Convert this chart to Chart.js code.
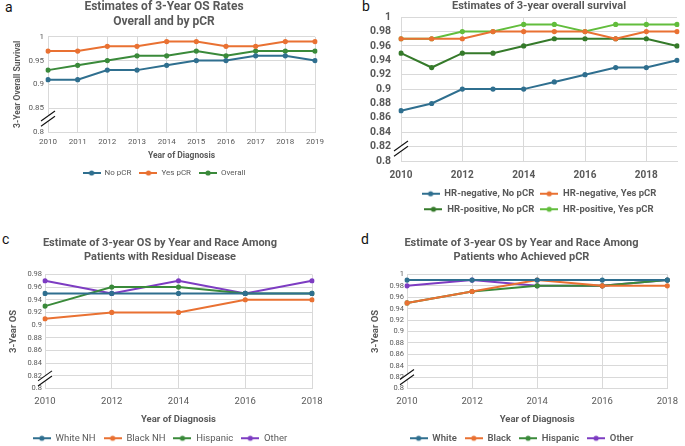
<!DOCTYPE html>
<html>
<head>
<meta charset="utf-8">
<script src="https://cdn.jsdelivr.net/npm/chart.js@4.4.1/dist/chart.umd.min.js"></script>
<style>
  html, body { margin: 0; padding: 0; background: #fff; }
  body { width: 685px; height: 446px; position: relative; overflow: hidden; font-family: Roboto, sans-serif; }
  .panel { position: absolute; }
  .tag { position: absolute; font: 14px Roboto, sans-serif; color: #111; }
</style>
</head>
<body>
<div class="tag" style="left:5px;top:-1px">a</div>
<div class="tag" style="left:362px;top:-2px">b</div>
<div class="tag" style="left:2px;top:231px">c</div>
<div class="tag" style="left:361px;top:231px">d</div>

<div class="panel" style="left:0;top:0;width:340px;height:187px"><canvas id="chartA"></canvas></div>
<div class="panel" style="left:340px;top:0;width:345px;height:224px"><canvas id="chartB"></canvas></div>
<div class="panel" style="left:0;top:225px;width:340px;height:228px"><canvas id="chartC"></canvas></div>
<div class="panel" style="left:340px;top:225px;width:345px;height:228px"><canvas id="chartD"></canvas></div>

<script>
// ---- data ----
const yearsAll = ['2010', '2011', '2012', '2013', '2014', '2015', '2016', '2017', '2018', '2019'];
const yearsEven = ['2010', '2012', '2014', '2016', '2018'];

// panel a
const noPcr = [0.91, 0.91, 0.93, 0.93, 0.94, 0.95, 0.95, 0.96, 0.96, 0.95];
const yesPcr = [0.97, 0.97, 0.98, 0.98, 0.99, 0.99, 0.98, 0.98, 0.99, 0.99];
const overall = [0.93, 0.94, 0.95, 0.96, 0.96, 0.97, 0.96, 0.97, 0.97, 0.97];

// panel b
const hrNegNo = [0.87, 0.88, 0.90, 0.90, 0.90, 0.91, 0.92, 0.93, 0.93, 0.94];
const hrNegYes = [0.97, 0.97, 0.97, 0.98, 0.98, 0.98, 0.98, 0.97, 0.98, 0.98];
const hrPosNo = [0.95, 0.93, 0.95, 0.95, 0.96, 0.97, 0.97, 0.97, 0.97, 0.96];
const hrPosYes = [0.97, 0.97, 0.98, 0.98, 0.99, 0.99, 0.98, 0.99, 0.99, 0.99];

// panel c (residual disease)
const resWhite = [0.95, 0.95, 0.95, 0.95, 0.95];
const resBlack = [0.91, 0.92, 0.92, 0.94, 0.94];
const resHisp = [0.93, 0.96, 0.96, 0.95, 0.95];
const resOther = [0.97, 0.95, 0.97, 0.95, 0.97];

// panel d (achieved pCR)
const pcrWhite = [0.99, 0.99, 0.99, 0.99, 0.99];
const pcrBlack = [0.95, 0.97, 0.99, 0.98, 0.98];
const pcrHisp = [0.95, 0.97, 0.98, 0.98, 0.99];
const pcrOther = [0.98, 0.99, 0.98, 0.98, 0.99];

// ---- style ----
Chart.defaults.font.family = 'Roboto, sans-serif';
Chart.defaults.color = '#595959';
Chart.defaults.animation = false;

const GRID = '#d9d9d9';
const BLUE = '#2f6f8f';
const ORANGE = '#e97132';
const GREEN = '#3a8a3a';
const DGREEN = '#357a2a';
const LGREEN = '#62bd3c';
const PURPLE = '#7d3cc2';

// legend icon: short line with a dot, like the spreadsheet legend
function makeIcon(color) {
  const c = document.createElement('canvas');
  c.width = 18; c.height = 8;
  const g = c.getContext('2d');
  g.strokeStyle = color; g.lineWidth = 2;
  g.beginPath(); g.moveTo(0, 4); g.lineTo(18, 4); g.stroke();
  g.fillStyle = color;
  g.beginPath(); g.arc(9, 4, 2.6, 0, Math.PI * 2); g.fill();
  return c;
}

function series(label, data, color) {
  return {
    label: label, data: data,
    borderColor: color, backgroundColor: color,
    borderWidth: 2, pointRadius: 2.6, pointHoverRadius: 2.6,
    pointBorderWidth: 0, pointBackgroundColor: color, tension: 0
  };
}

// draws the "//" axis break near the bottom of the y axis
const breakMark = {
  id: 'breakMark',
  afterDraw(chart, args, opts) {
    const a = chart.chartArea, ctx = chart.ctx;
    const x = a.left, y = a.bottom - opts.frac * (a.bottom - a.top);
    ctx.save();
    ctx.lineCap = 'butt';
    ctx.strokeStyle = '#fff'; ctx.lineWidth = 4;
    ctx.beginPath(); ctx.moveTo(x - 7, y + 5); ctx.lineTo(x + 7, y - 5); ctx.stroke();
    ctx.strokeStyle = '#111'; ctx.lineWidth = 1.1;
    [-2.6, 2.6].forEach(d => {
      ctx.beginPath(); ctx.moveTo(x - 7, y + 5 + d); ctx.lineTo(x + 7, y - 5 + d); ctx.stroke();
    });
    ctx.restore();
  }
};

function buildChart(id, o) {
  return new Chart(document.getElementById(id), {
    type: 'line',
    data: { labels: o.labels, datasets: o.datasets },
    plugins: [breakMark],
    options: {
      responsive: true,
      maintainAspectRatio: false,
      layout: { padding: o.padding },
      plugins: {
        breakMark: { frac: o.breakFrac },
        tooltip: { enabled: false },
        title: {
          display: true, text: o.title,
          font: { size: o.titleSize, weight: 'bold' }, color: '#595959',
          padding: o.titlePad, fullSize: o.titleFull
        },
        legend: {
          position: 'bottom',
          fullSize: o.legendFull,
          maxWidth: o.legendMax,
          labels: {
            usePointStyle: true, pointStyleWidth: 18,
            font: { size: o.legendSize, weight: o.legendWeight }, color: '#595959',
            padding: o.legendGap,
            generateLabels: function (chart) {
              const items = Chart.defaults.plugins.legend.labels.generateLabels(chart);
              items.forEach(it => { it.pointStyle = makeIcon(chart.data.datasets[it.datasetIndex].borderColor); });
              return items;
            }
          }
        }
      },
      scales: {
        x: {
          grid: {
            color: ctx => (o.xEvery > 1 && ctx.index % o.xEvery) ? 'rgba(0,0,0,0)' : GRID,
            drawTicks: false
          },
          border: { color: GRID },
          offset: false,
          ticks: {
            autoSkip: false, maxRotation: 0, padding: o.xTickPad,
            font: { size: o.xTickSize, weight: o.xTickWeight }, color: '#595959',
            callback: function (v, i) { return (i % o.xEvery) ? '' : this.getLabelForValue(v); }
          },
          title: {
            display: !!o.xTitle, text: o.xTitle,
            font: { size: o.axisTitleSize, weight: 'bold' }, color: '#595959', padding: { top: 2, bottom: 0 }
          },
          afterFit: s => { s.height = o.xHeight; }
        },
        y: {
          min: 0.8, max: o.yMax,
          grid: { color: GRID, drawTicks: false },
          border: { display: false },
          ticks: {
            stepSize: o.yStep, padding: o.yTickPad, autoSkip: false,
            font: { size: o.yTickSize, weight: o.yTickWeight }, color: '#595959',
            callback: v => String(+v.toFixed(2))
          },
          title: {
            display: !!o.yTitle, text: o.yTitle,
            font: { size: o.axisTitleSize, weight: 'bold' }, color: '#595959', padding: 0
          },
          afterFit: s => { s.width = o.yWidth; }
        }
      }
    }
  });
}

window.addEventListener('load', function () {
  buildChart('chartA', {
    labels: yearsAll,
    datasets: [series('No pCR', noPcr, BLUE), series('Yes pCR', yesPcr, ORANGE), series('Overall', overall, GREEN)],
    title: ['Estimates of 3-Year OS Rates', 'Overall and by pCR'], titleSize: 12, titlePad: { top: 0, bottom: 8 }, titleFull: true,
    yMax: 1, yStep: 0.05, yTitle: '3-Year Overall Survival', yWidth: 35, yTickSize: 8, yTickWeight: 'normal', yTickPad: 4,
    xEvery: 1, xTitle: 'Year of Diagnosis', xHeight: 29, xTickSize: 8, xTickWeight: 'normal', xTickPad: 5,
    axisTitleSize: 8.5, legendSize: 8, legendWeight: 'normal', legendGap: 8, legendFull: true,
    padding: { left: 13, right: 25, top: 0, bottom: 0 }, breakFrac: 0.14
  });

  buildChart('chartB', {
    labels: yearsAll,
    datasets: [series('HR-negative, No pCR', hrNegNo, BLUE), series('HR-negative, Yes pCR', hrNegYes, ORANGE),
               series('HR-positive, No pCR', hrPosNo, DGREEN), series('HR-positive, Yes pCR', hrPosYes, LGREEN)],
    title: 'Estimates of 3-year overall survival', titleSize: 11, titlePad: { top: 0, bottom: 4 }, titleFull: false,
    yMax: 1, yStep: 0.02, yTitle: '', yWidth: 61, yTickSize: 10.5, yTickWeight: 'bold', yTickPad: 10,
    xEvery: 2, xTitle: '', xHeight: 22, xTickSize: 10, xTickWeight: 'bold', xTickPad: 8,
    axisTitleSize: 9, legendSize: 9.5, legendWeight: 'bold', legendGap: 6, legendMax: 290, legendFull: false,
    padding: { left: 0, right: 3, top: 0, bottom: 0 }, breakFrac: 0.086
  });

  buildChart('chartC', {
    labels: yearsEven,
    datasets: [series('White NH', resWhite, BLUE), series('Black NH', resBlack, ORANGE),
               series('Hispanic', resHisp, GREEN), series('Other', resOther, PURPLE)],
    title: ['Estimate of 3-year OS by Year and Race Among', 'Patients with Residual Disease'], titleSize: 11, titlePad: { top: 12, bottom: 11 }, titleFull: true,
    yMax: 0.98, yStep: 0.02, yTitle: '3-Year OS', yWidth: 37, yTickSize: 7.5, yTickWeight: 'normal', yTickPad: 3,
    xEvery: 1, xTitle: 'Year of Diagnosis', xHeight: 37, xTickSize: 9.5, xTickWeight: 'normal', xTickPad: 7,
    axisTitleSize: 9.5, legendSize: 9.5, legendWeight: 'normal', legendGap: 8, legendFull: true,
    padding: { left: 8, right: 28, top: 0, bottom: 0 }, breakFrac: 0.088
  });

  buildChart('chartD', {
    labels: yearsEven,
    datasets: [series('White', pcrWhite, BLUE), series('Black', pcrBlack, ORANGE),
               series('Hispanic', pcrHisp, GREEN), series('Other', pcrOther, PURPLE)],
    title: ['Estimate of 3-year OS by Year and Race Among', 'Patients who Achieved pCR'], titleSize: 11, titlePad: { top: 12, bottom: 11 }, titleFull: true,
    yMax: 1, yStep: 0.02, yTitle: '3-Year OS', yWidth: 37, yTickSize: 7.5, yTickWeight: 'normal', yTickPad: 3,
    xEvery: 1, xTitle: 'Year of Diagnosis', xHeight: 37, xTickSize: 9.5, xTickWeight: 'normal', xTickPad: 7,
    axisTitleSize: 9.5, legendSize: 9.5, legendWeight: '600', legendGap: 8, legendFull: true,
    padding: { left: 30, right: 12, top: 0, bottom: 0 }, breakFrac: 0.1
  });
});
</script>
</body>
</html>
